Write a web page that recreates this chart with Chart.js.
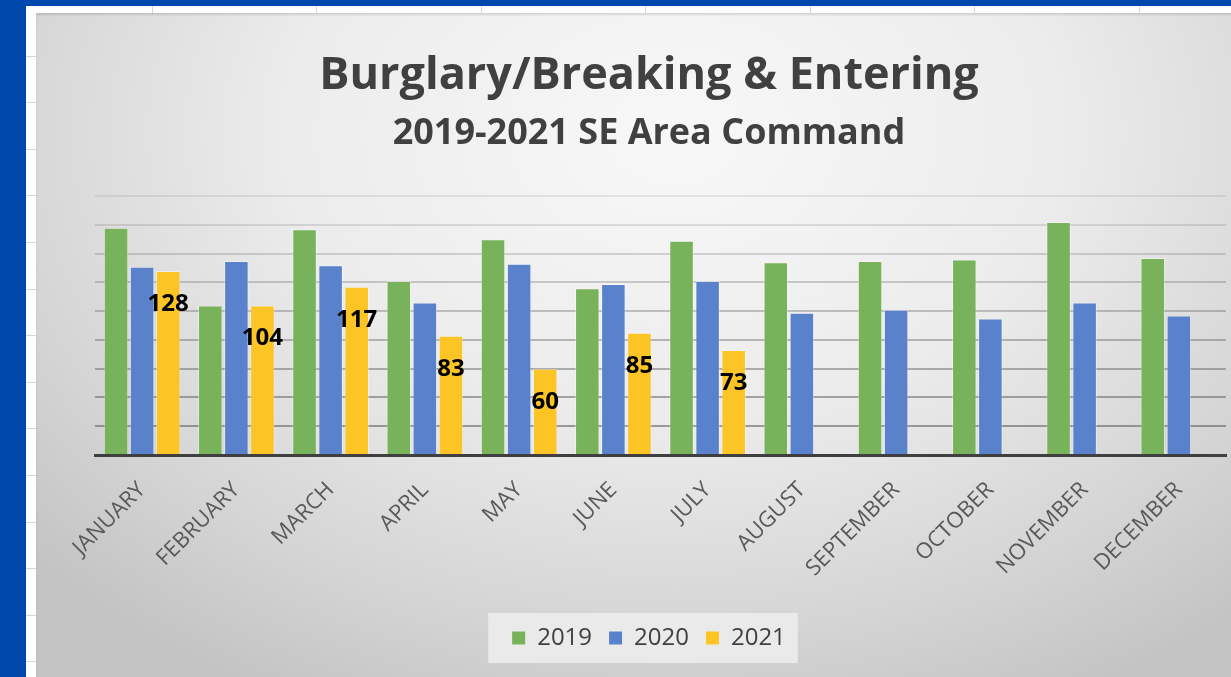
<!DOCTYPE html>
<html>
<head>
<meta charset="utf-8">
<script src="https://cdn.jsdelivr.net/npm/chart.js@4/dist/chart.umd.min.js"></script>
<style>
    html, body { margin: 0; padding: 0; }
    body {
        width: 1231px;
        height: 677px;
        overflow: hidden;
        position: relative;
        background: #0148ad;
    }
    /* spreadsheet showing behind the chart */
    #sheet {
        position: absolute;
        left: 26px;
        top: 6px;
        width: 1205px;
        height: 671px;
        background-color: #ffffff;
        background-image:
            repeating-linear-gradient(to bottom, transparent 0, transparent 45.6px, #d6d6d6 45.6px, #d6d6d6 46.6px),
            repeating-linear-gradient(to right, transparent 0, transparent 163.5px, #d6d6d6 163.5px, #d6d6d6 164.5px);
        background-position: 0 4px, -38px 0;
    }
    #panel {
        position: absolute;
        left: 36px;
        top: 13px;
        width: 1226px;
        height: 664px;
        background: radial-gradient(ellipse 70% 95% at 52% 18%, #f8f8f8 0%, #ececec 45%, #d4d4d4 80%, #c4c4c4 100%);
        box-shadow: inset 0 2px 2px rgba(0, 0, 0, 0.12);
    }
    canvas { display: block; }
</style>
</head>
<body>
<div id="sheet"></div>
<div id="panel">
    <canvas id="burglary_graph" width="1226" height="664"></canvas>
</div>
<script>
    const months = ['JANUARY', 'FEBRUARY', 'MARCH', 'APRIL', 'MAY', 'JUNE',
        'JULY', 'AUGUST', 'SEPTEMBER', 'OCTOBER', 'NOVEMBER', 'DECEMBER'];
    const years = ['2019', '2020', '2021'];
    const counts2019 = [158, 104, 157, 121, 150, 116, 149, 134, 135, 136, 162, 137];
    const counts2020 = [131, 135, 132, 106, 133, 119, 121, 99, 101, 95, 106, 97];
    const counts2021 = [128, 104, 117, 83, 60, 85, 73, null, null, null, null, null];
    const yTicks = [0, 20, 40, 60, 80, 100, 120, 140, 160, 180];

    const font = 'Open Sans';

    // values printed inside the 2021 bars
    const barLabels = {
        id: 'barLabels',
        afterDatasetsDraw(chart) {
            let ctx = chart.ctx;
            let meta = chart.getDatasetMeta(2);
            ctx.save();
            ctx.font = 'bold 24px "' + font + '"';
            ctx.fillStyle = '#000000';
            ctx.textAlign = 'center';
            ctx.textBaseline = 'middle';
            meta.data.forEach(function(bar, index) {
                let value = counts2021[index];
                if (value === null) {
                    return;
                }
                ctx.fillText(String(value), bar.x, bar.y + 33);
            });
            ctx.restore();
        }
    };

    // faint box behind the legend
    const legendBox = {
        id: 'legendBox',
        beforeDraw(chart) {
            let boxes = chart.legend.legendHitBoxes;
            if (!boxes || !boxes.length) {
                return;
            }
            let first = boxes[0];
            let last = boxes[boxes.length - 1];
            let ctx = chart.ctx;
            ctx.save();
            ctx.fillStyle = 'rgba(236, 236, 236, 0.9)';
            ctx.fillRect(first.left - 24, first.top - 13, last.left + last.width - first.left + 36, 50);
            ctx.restore();
        }
    };

    function gridColor(context) {
        let value = context.tick ? context.tick.value : 0;
        if (value === 0) {
            return 'rgba(0,0,0,0)';
        }
        let alpha = 0.62 - (value / 180) * 0.5;
        return 'rgba(90, 90, 90, ' + alpha.toFixed(3) + ')';
    }

    let chart = new Chart(document.getElementById('burglary_graph'), {
        type: 'bar',
        data: {
            labels: months,
            datasets: [
                {
                    label: years[0],
                    data: counts2019,
                    backgroundColor: '#78b25a',
                    borderColor: 'rgba(255,255,255,0.4)',
                    borderWidth: 1
                },
                {
                    label: years[1],
                    data: counts2020,
                    backgroundColor: '#5a82cc',
                    borderColor: 'rgba(255,255,255,0.4)',
                    borderWidth: 1
                },
                {
                    label: years[2],
                    data: counts2021,
                    backgroundColor: '#fdc425',
                    borderColor: 'rgba(255,255,255,0.4)',
                    borderWidth: 1
                }
            ]
        },
        options: {
            responsive: false,
            animation: false,
            events: [],
            datasets: {
                bar: {
                    categoryPercentage: 0.83,
                    barPercentage: 0.94
                }
            },
            layout: {
                padding: { left: 36, right: 36, top: 0, bottom: 17 }
            },
            scales: {
                x: {
                    afterFit(scale) {
                        scale.height = 154;
                    },
                    grid: { display: false },
                    border: { display: true, color: '#3f3f3f', width: 3 },
                    ticks: {
                        minRotation: 45,
                        maxRotation: 45,
                        autoSkip: false,
                        padding: 14,
                        labelOffset: 0,
                        color: '#595959',
                        font: { family: font, size: 22 }
                    }
                },
                y: {
                    min: 0,
                    max: 180,
                    afterFit(scale) {
                        scale.width = 23;
                    },
                    afterBuildTicks(scale) {
                        scale.ticks = yTicks.map(function(v) { return { value: v }; });
                    },
                    border: { display: false },
                    grid: {
                        color: gridColor,
                        lineWidth: 2,
                        drawTicks: false
                    },
                    ticks: { display: false }
                }
            },
            plugins: {
                title: {
                    display: true,
                    text: 'Burglary/Breaking & Entering',
                    color: '#404040',
                    font: { family: font, size: 45, weight: 'bold' },
                    padding: { top: 36, bottom: 0 }
                },
                subtitle: {
                    display: true,
                    text: '2019-2021 SE Area Command',
                    color: '#404040',
                    font: { family: font, size: 36, weight: 'bold' },
                    padding: { top: 9, bottom: 41 }
                },
                legend: {
                    position: 'bottom',
                    labels: {
                        color: '#404040',
                        boxWidth: 13,
                        boxHeight: 13,
                        padding: 17,
                        font: { family: font, size: 24 },
                        generateLabels(c) {
                            return Chart.defaults.plugins.legend.labels.generateLabels(c).map(function(item) {
                                item.lineWidth = 0;
                                return item;
                            });
                        }
                    }
                },
                tooltip: { enabled: false }
            }
        },
        plugins: [legendBox, barLabels]
    });
</script>
</body>
</html>
